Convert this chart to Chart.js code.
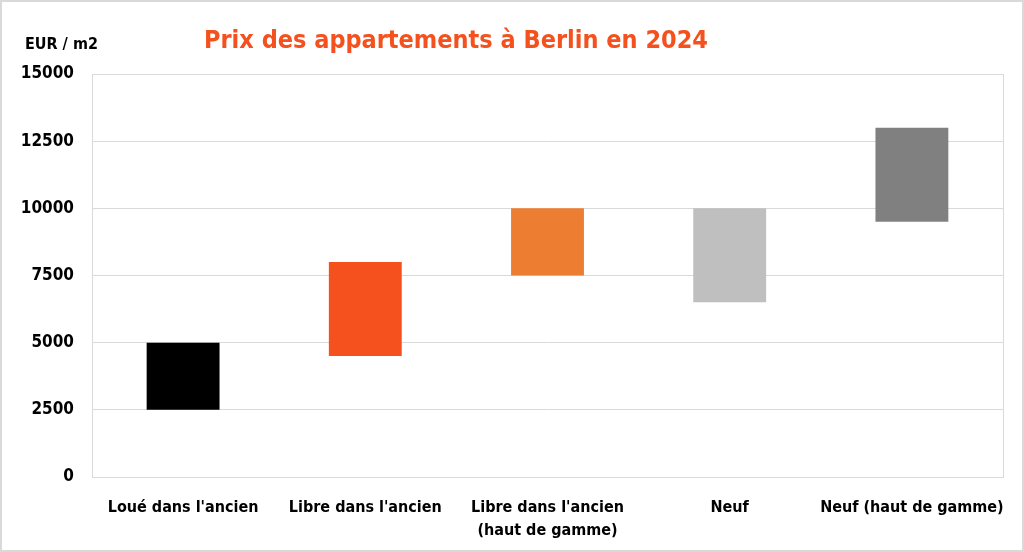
<!DOCTYPE html>
<html>
<head>
<meta charset="utf-8">
<script src="https://cdn.jsdelivr.net/npm/chart.js@4/dist/chart.umd.min.js"></script>
<style>
  html, body { margin: 0; padding: 0; background: #fff; }
  #wrap { width: 1024px; height: 552px; }
</style>
</head>
<body>
<div id="wrap"><canvas id="graph" width="1024" height="552"></canvas></div>
<script>
const categories = [
  "Loué dans l'ancien",
  "Libre dans l'ancien",
  ["Libre dans l'ancien", "(haut de gamme)"],
  "Neuf",
  "Neuf (haut de gamme)",
];
const lowValues = [2500, 4500, 7500, 6500, 9500];
const highValues = [5000, 8000, 10000, 10000, 13000];
const barColors = ["#000000", "#F4511E", "#ED7D31", "#BFBFBF", "#808080"];
const yTicks = [0, 2500, 5000, 7500, 10000, 12500, 15000];

const FONT = "'Liberation Sans Narrow', 'DejaVu Sans Condensed', 'Liberation Sans', sans-serif";

const ranges = lowValues.map((lo, i) => [lo, highValues[i]]);

// frame, title and unit label
const decor = {
  id: "decor",
  afterDraw(chart) {
    const { ctx, chartArea: a } = chart;
    ctx.save();
    ctx.strokeStyle = "#d9d9d9";
    ctx.lineWidth = 1;
    ctx.strokeRect(a.left + 0.5, a.top + 0.5, a.right - a.left, a.bottom - a.top);
    ctx.lineWidth = 2;
    ctx.strokeRect(1, 1, chart.width - 2, chart.height - 2);

    ctx.fillStyle = "#F4511E";
    ctx.font = "bold 25px " + FONT;
    ctx.textAlign = "center";
    ctx.textBaseline = "middle";
    ctx.fillText("Prix des appartements à Berlin en 2024", 456, 41);

    ctx.fillStyle = "#000";
    ctx.font = "bold 16px " + FONT;
    ctx.textAlign = "left";
    ctx.fillText("EUR / m2", 25, 45);
    ctx.restore();
  },
};

new Chart(document.getElementById("graph"), {
  type: "bar",
  data: {
    labels: categories,
    datasets: [
      {
        data: ranges,
        backgroundColor: barColors,
        borderWidth: 0,
        barPercentage: 0.4,
        categoryPercentage: 1,
      },
    ],
  },
  options: {
    responsive: false,
    animation: false,
    layout: { padding: { top: 74, right: 21, left: 0, bottom: 0 } },
    plugins: {
      legend: { display: false },
      tooltip: { enabled: false },
    },
    scales: {
      x: {
        grid: { display: false },
        border: { display: false },
        ticks: {
          color: "#000",
          font: { family: FONT, size: 16, weight: "bold", lineHeight: 1.45 },
          padding: 11,
          maxRotation: 0,
          autoSkip: false,
        },
        afterFit: (s) => { s.height = 75; },
      },
      y: {
        min: 0,
        max: 15000,
        afterBuildTicks: (s) => { s.ticks = yTicks.map((v) => ({ value: v })); },
        grid: { color: "#d9d9d9", drawTicks: false },
        border: { display: false },
        ticks: {
          color: "#000",
          font: { family: FONT, size: 17, weight: "bold" },
          padding: 18,
          callback: (v) => String(v),
        },
        afterFit: (s) => { s.width = 92; },
      },
    },
  },
  plugins: [decor],
});
</script>
</body>
</html>
